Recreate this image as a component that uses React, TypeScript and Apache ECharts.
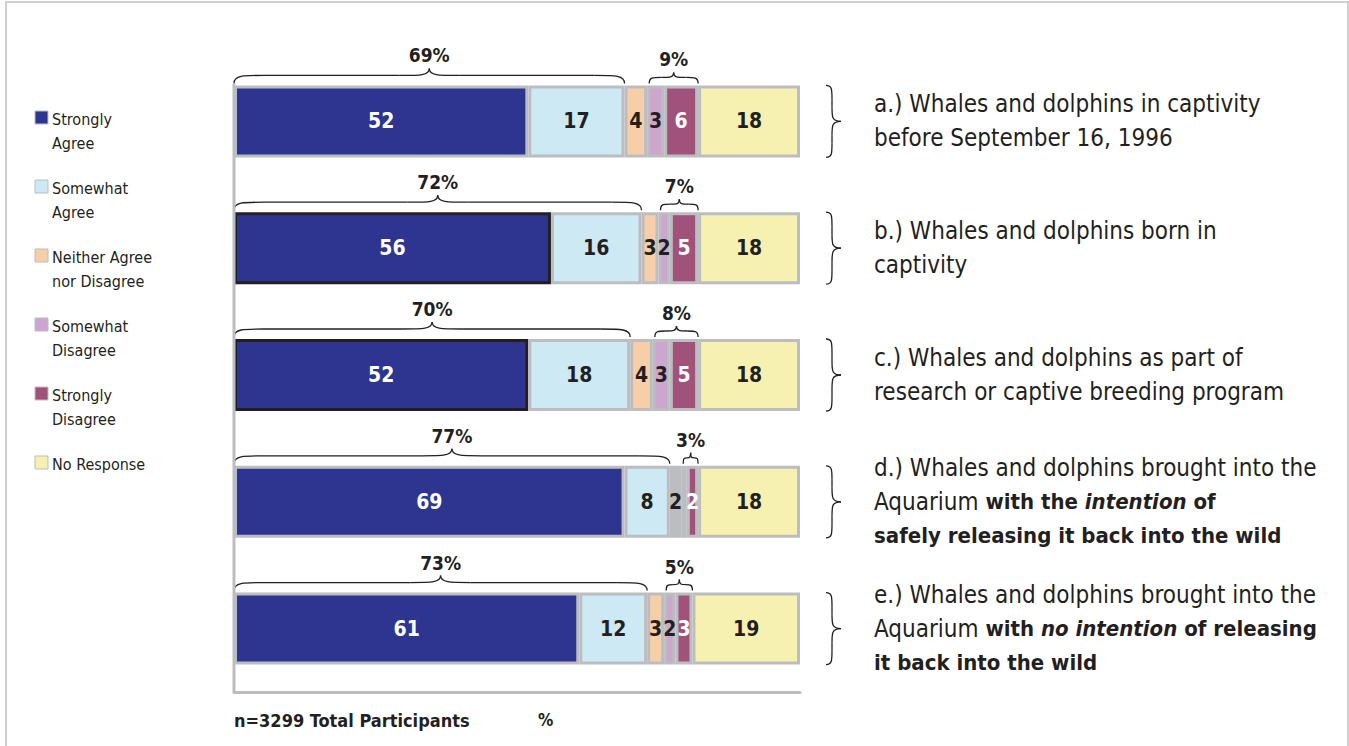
import React, { useEffect, useRef } from "react";
import * as echarts from "echarts";

const categories = ["a", "b", "c", "d", "e"];
const seriesNames = [
  "Strongly\nAgree",
  "Somewhat\nAgree",
  "Neither Agree\nnor Disagree",
  "Somewhat\nDisagree",
  "Strongly\nDisagree",
  "No Response",
];
const stronglyAgree = [52, 56, 52, 69, 61];
const somewhatAgree = [17, 16, 18, 8, 12];
const neither = [4, 3, 4, 2, 3];
const somewhatDisagree = [3, 2, 3, 1, 2];
const stronglyDisagree = [6, 5, 5, 2, 3];
const noResponse = [18, 18, 18, 18, 19];
const agreeTotals = ["69%", "72%", "70%", "77%", "73%"];
const disagreeTotals = ["9%", "7%", "8%", "3%", "5%"];
const colors = ["#2e3590", "#cce9f4", "#f6cfa9", "#cda6cf", "#a0527a", "#f7f1b1"];
const labelColors = ["#ffffff", "#231f20", "#231f20", "#231f20", "#ffffff", "#231f20"];
const statements = [
  "{n|a.) Whales and dolphins in captivity}\n{n|before September 16, 1996}",
  "{n|b.) Whales and dolphins born in}\n{n|captivity}",
  "{n|c.) Whales and dolphins as part of}\n{n|research or captive breeding program}",
  "{n|d.) Whales and dolphins brought into the}\n{n|Aquarium }{b|with the }{bi|intention}{b| of}\n{b|safely releasing it back into the wild}",
  "{n|e.) Whales and dolphins brought into the}\n{n|Aquarium }{b|with }{bi|no intention}{b| of releasing}\n{b|it back into the wild}",
];
const footnote = "n=3299 Total Participants";
const unitLabel = "%";

const FONT = "'Liberation Sans Narrow', 'DejaVu Sans Condensed', Roboto, sans-serif";
const TXT = "#231f20";
const BORDER = "#bcbdc0";
const GRID = { left: 234, right: 549, top: 58, bottom: 54 };
const H = 746;

export default function App() {
  const ref = useRef<HTMLDivElement>(null);
  useEffect(() => {
    if (!ref.current) return;
    const chart = echarts.init(ref.current, undefined, { renderer: "svg" });
    const allData = [stronglyAgree, somewhatAgree, neither, somewhatDisagree, stronglyDisagree, noResponse];
    const barWidth = 72;
    const series = allData.map((arr, si) => ({
      name: seriesNames[si],
      type: "bar",
      stack: "total",
      barWidth,
      data: arr.map((v, ci) => {
        const item: any = { value: v };
        if (si === 2 && ci === 3) item.itemStyle = { color: "#bcbdc0" };
        if (si === 0 && (ci === 1 || ci === 2)) item.itemStyle = { borderColor: "#231f20" };
        return item;
      }),
      itemStyle: { color: colors[si], borderColor: BORDER, borderWidth: 3 },
      label: {
        show: true,
        position: "inside",
        color: labelColors[si],
        fontFamily: FONT,
        fontWeight: "bold",
        fontSize: 21,
        formatter: (p: any) => (p.value > 1 ? String(p.value) : ""),
      },
    }));
    chart.setOption({
      animation: false,
      backgroundColor: "#ffffff",
      grid: GRID,
      xAxis: {
        type: "value",
        min: 0,
        max: 100,
        axisLine: { show: true, lineStyle: { color: BORDER, width: 3 } },
        axisTick: { show: false },
        axisLabel: { show: false },
        splitLine: { show: false },
      },
      yAxis: {
        type: "category",
        data: categories,
        inverse: true,
        axisLine: { show: false },
        axisTick: { show: false },
        axisLabel: { show: false },
      },
      series,
    });

    const px = (x: number, ci: number) => chart.convertToPixel({ gridIndex: 0 }, [x, ci]) as number[];
    const graphics: any[] = [];
    graphics.push({
      type: "rect",
      shape: { x: 6, y: 2, width: 1342, height: 760 },
      style: { fill: "none", stroke: "#cfcfcf", lineWidth: 2 },
      z: -10,
    });
    const st = { stroke: TXT, lineWidth: 1.3, fill: "none" };
    const hBrace = (x1: number, x2: number, yb: number, big: boolean) => {
      const xm = (x1 + x2) / 2;
      const w = big ? 30 : Math.min(12, (x2 - x1) / 4);
      const dy = big ? 8 : 6;
      const tip = big ? 15 : 11;
      const yl = yb - dy;
      const yt = yb - tip;
      graphics.push(
        { type: "bezierCurve", shape: { x1, y1: yb, cpx1: x1, cpy1: yl, cpx2: x1 + w * 0.3, cpy2: yl, x2: x1 + w, y2: yl }, style: st },
        { type: "line", shape: { x1: x1 + w, y1: yl, x2: xm - w, y2: yl }, style: st },
        { type: "bezierCurve", shape: { x1: xm - w, y1: yl, cpx1: xm - w * 0.3, cpy1: yl, cpx2: xm, cpy2: yl, x2: xm, y2: yt }, style: st },
        { type: "bezierCurve", shape: { x1: xm, y1: yt, cpx1: xm, cpy1: yl, cpx2: xm + w * 0.3, cpy2: yl, x2: xm + w, y2: yl }, style: st },
        { type: "line", shape: { x1: xm + w, y1: yl, x2: x2 - w, y2: yl }, style: st },
        { type: "bezierCurve", shape: { x1: x2 - w, y1: yl, cpx1: x2 - w * 0.3, cpy1: yl, cpx2: x2, cpy2: yl, x2, y2: yb }, style: st }
      );
      return { xm, yt };
    };
    const vBrace = (x0: number, y1: number, y2: number) => {
      const ym = (y1 + y2) / 2;
      const w = 14;
      const xl = x0 + 6;
      const xt = x0 + 15;
      graphics.push(
        { type: "bezierCurve", shape: { x1: x0, y1, cpx1: xl, cpy1: y1, cpx2: xl, cpy2: y1 + w * 0.3, x2: xl, y2: y1 + w }, style: st },
        { type: "line", shape: { x1: xl, y1: y1 + w, x2: xl, y2: ym - w }, style: st },
        { type: "bezierCurve", shape: { x1: xl, y1: ym - w, cpx1: xl, cpy1: ym - w * 0.3, cpx2: xl, cpy2: ym, x2: xt, y2: ym }, style: st },
        { type: "bezierCurve", shape: { x1: xt, y1: ym, cpx1: xl, cpy1: ym, cpx2: xl, cpy2: ym + w * 0.3, x2: xl, y2: ym + w }, style: st },
        { type: "line", shape: { x1: xl, y1: ym + w, x2: xl, y2: y2 - w }, style: st },
        { type: "bezierCurve", shape: { x1: xl, y1: y2 - w, cpx1: xl, cpy1: y2 - w * 0.3, cpx2: xl, cpy2: y2, x2: x0, y2 }, style: st }
      );
    };
    categories.forEach((_, ci) => {
      const [x0, yc] = px(0, ci);
      const top = yc - barWidth / 2;
      const bottom = yc + barWidth / 2;
      const agreeEnd = stronglyAgree[ci] + somewhatAgree[ci];
      const disStart = agreeEnd + neither[ci];
      const disEnd = disStart + somewhatDisagree[ci] + stronglyDisagree[ci];
      const xa = px(agreeEnd, ci)[0];
      const xds = px(disStart, ci)[0];
      const xde = px(disEnd, ci)[0];
      const big = hBrace(x0, xa, top - 2, true);
      graphics.push({
        type: "text",
        x: big.xm,
        y: big.yt - 13,
        style: { text: agreeTotals[ci], fill: TXT, font: `bold 19px ${FONT}`, align: "center", verticalAlign: "middle" },
      });
      const small = hBrace(xds + 2, xde, top - 2, false);
      graphics.push({
        type: "text",
        x: small.xm,
        y: small.yt - 13,
        style: { text: disagreeTotals[ci], fill: TXT, font: `bold 19px ${FONT}`, align: "center", verticalAlign: "middle" },
      });
      const xr = px(100, ci)[0];
      vBrace(xr + 26, top, bottom);
      const rs = { fontFamily: FONT, fontSize: 24, lineHeight: 34, fill: TXT, color: TXT };
      graphics.push({
        type: "text",
        x: xr + 74,
        y: yc,
        style: {
          text: statements[ci],
          fill: TXT,
          align: "left",
          verticalAlign: "middle",
          rich: {
            n: { ...rs },
            b: { ...rs, fontSize: 22, fontWeight: "bold" },
            bi: { ...rs, fontSize: 22, fontWeight: "bold", fontStyle: "italic" },
          },
        },
      });
    });
    const [ax, ay0] = px(0, 0);
    graphics.push({
      type: "line",
      shape: { x1: ax, y1: ay0 - barWidth / 2 - 1.5, x2: ax, y2: H - GRID.bottom },
      style: { stroke: BORDER, lineWidth: 3 },
      z: 10,
    });
    seriesNames.forEach((name, i) => {
      const y = 111 + i * 69;
      graphics.push({
        type: "rect",
        shape: { x: 35, y, width: 13, height: 13 },
        style: { fill: colors[i], stroke: BORDER, lineWidth: 1 },
      });
      graphics.push({
        type: "text",
        x: 52,
        y: y - 4,
        style: { text: name, fill: TXT, font: `16px ${FONT}`, lineHeight: 24, align: "left", verticalAlign: "top" },
      });
    });
    graphics.push({
      type: "text",
      x: ax,
      y: 720,
      style: { text: footnote, fill: TXT, font: `bold 18px ${FONT}`, align: "left", verticalAlign: "middle" },
    });
    graphics.push({
      type: "text",
      x: 538,
      y: 720,
      style: { text: unitLabel, fill: TXT, font: `bold 17px ${FONT}`, align: "left", verticalAlign: "middle" },
    });
    chart.setOption({ graphic: graphics });
    return () => chart.dispose();
  }, []);
  return (
    <div
      ref={ref}
      style={{ position: "fixed", left: 0, top: 0, width: 1349, height: 746, background: "#fff" }}
    />
  );
}
